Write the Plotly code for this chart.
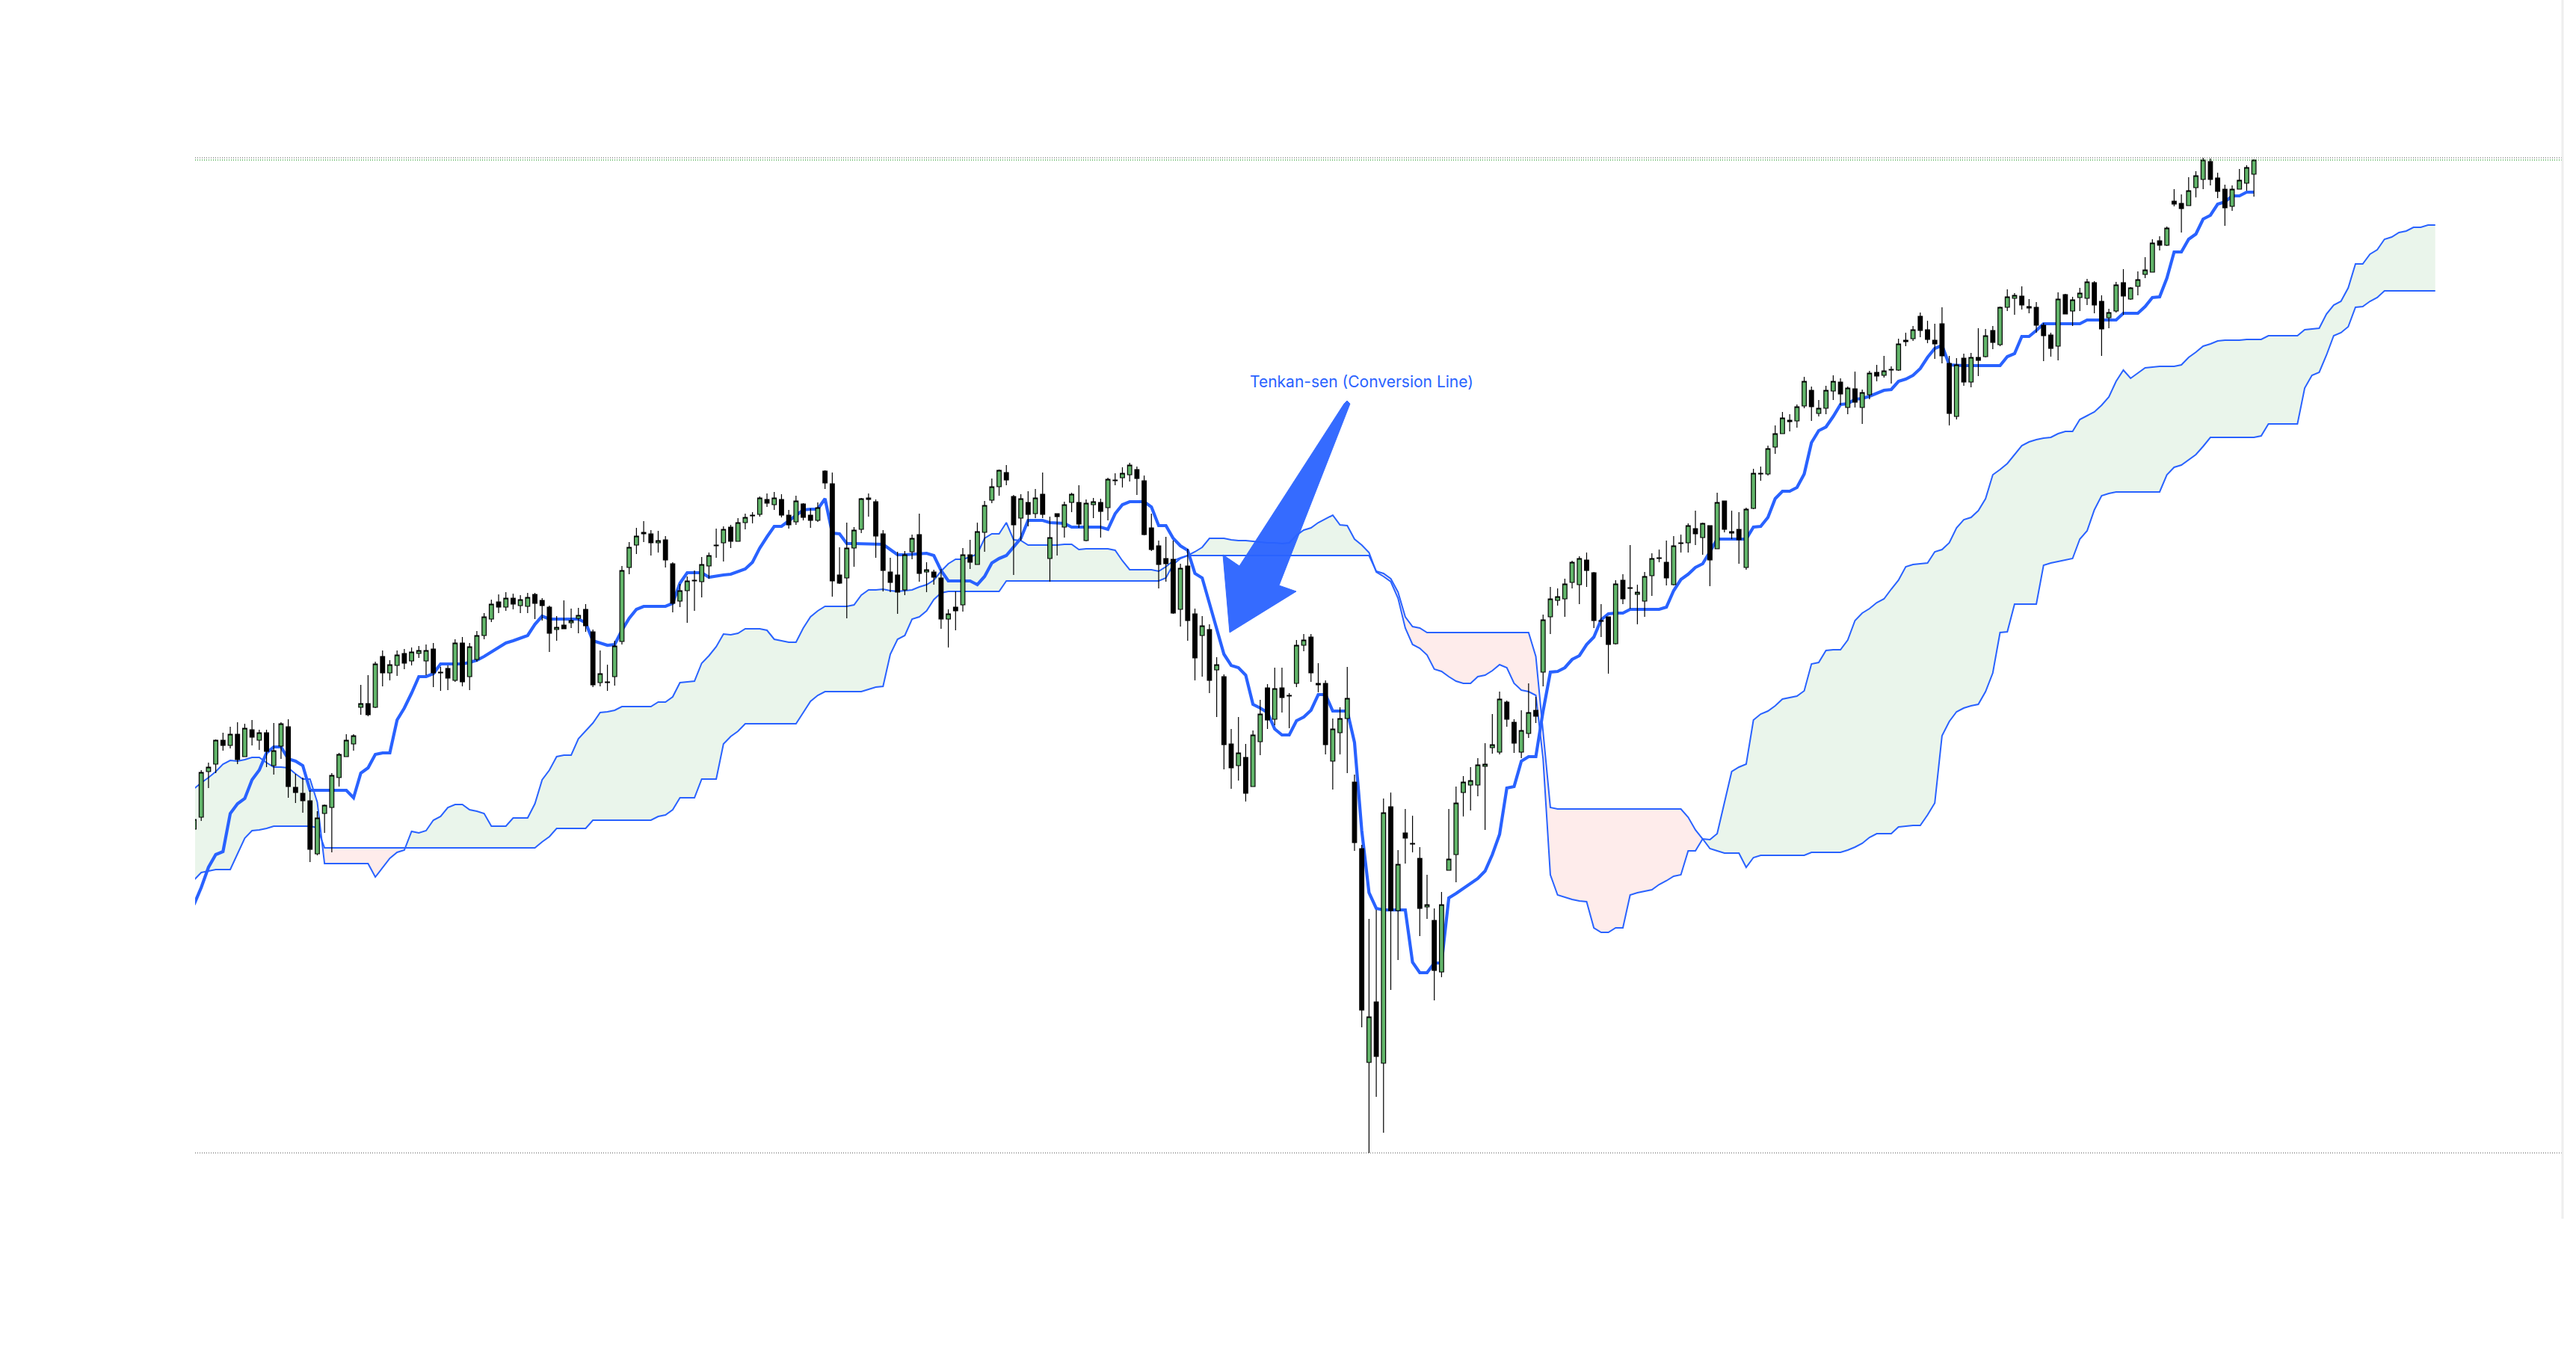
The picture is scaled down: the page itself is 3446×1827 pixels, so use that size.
import plotly.graph_objects as go

# ---------------- data (price units, index = bar number) ----------------
open_ = [891, 907, 968, 978, 1010, 1003, 1018, 988, 1024, 1010,
         1020, 976, 1002, 1028, 947, 939, 929, 858, 912, 920,
         960, 988, 1005, 1054, 1059, 1054, 1122, 1100, 1110, 1126,
         1116, 1126, 1116, 1132, 1100, 1106, 1090, 1140, 1095, 1118,
         1150, 1172, 1195, 1188, 1200, 1190, 1189, 1205, 1197, 1188,
         1158, 1164, 1167, 1173, 1185, 1155, 1087, 1087, 1095, 1142,
         1241, 1271, 1286, 1286, 1274, 1278, 1246, 1196, 1210, 1223,
         1222, 1243, 1270, 1274, 1295, 1276, 1301, 1310, 1312, 1332,
         1325, 1332, 1311, 1302, 1326, 1311, 1304, 1370, 1353, 1231,
         1227, 1267, 1292, 1334, 1329, 1286, 1235, 1231, 1211, 1262,
         1285, 1235, 1235, 1227, 1172, 1188, 1191, 1258, 1245, 1288,
         1331, 1349, 1368, 1336, 1307, 1328, 1313, 1339, 1253, 1313,
         1295, 1328, 1328, 1277, 1325, 1328, 1321, 1357, 1361, 1365,
         1372, 1357, 1294, 1270, 1253, 1252, 1185, 1243, 1179, 1150,
         1158, 1104, 1095, 1005, 976, 987, 948, 1008, 1080, 1038,
         1080, 1069, 1086, 1137, 1148, 1084, 1086, 982, 1020, 1039,
         954, 865, 579, 660, 578, 921, 782, 886, 871, 852,
         787, 769, 700, 836, 857, 940, 950, 950, 975, 1000,
         994, 1061, 1034, 994, 1019, 1050, 1101, 1175, 1197, 1199,
         1221, 1218, 1251, 1234, 1169, 1175, 1139, 1224, 1213, 1205,
         1196, 1230, 1253, 1248, 1218, 1273, 1274, 1293, 1281, 1297,
         1266, 1330, 1287, 1292, 1241, 1320, 1366, 1366, 1402, 1420,
         1436, 1437, 1457, 1478, 1447, 1454, 1477, 1489, 1455, 1480,
         1455, 1472, 1502, 1498, 1505, 1505, 1545, 1547, 1577, 1559,
         1545, 1567, 1514, 1443, 1521, 1489, 1522, 1523, 1558, 1539,
         1589, 1601, 1604, 1588, 1589, 1565, 1552, 1537, 1606, 1584,
         1602, 1601, 1622, 1597, 1575, 1584, 1622, 1600, 1617, 1633,
         1636, 1678, 1672, 1731, 1728, 1725, 1749, 1760, 1784, 1762,
         1747, 1724, 1747, 1755, 1767]

high = [907, 970, 980, 1011, 1020, 1028, 1034, 1032, 1037, 1024,
        1024, 1033, 1034, 1038, 965, 960, 943, 915, 924, 966,
        993, 1018, 1018, 1084, 1097, 1115, 1130, 1117, 1130, 1132,
        1134, 1136, 1138, 1140, 1108, 1110, 1145, 1148, 1140, 1156,
        1180, 1198, 1205, 1208, 1206, 1204, 1207, 1207, 1200, 1190,
        1176, 1197, 1186, 1187, 1192, 1158, 1130, 1111, 1143, 1243,
        1275, 1294, 1303, 1291, 1290, 1283, 1248, 1219, 1229, 1237,
        1255, 1261, 1293, 1296, 1298, 1307, 1313, 1315, 1336, 1340,
        1342, 1339, 1318, 1337, 1327, 1320, 1328, 1371, 1368, 1268,
        1301, 1295, 1334, 1340, 1332, 1291, 1254, 1262, 1263, 1285,
        1313, 1248, 1238, 1239, 1185, 1209, 1267, 1278, 1301, 1330,
        1360, 1372, 1378, 1338, 1339, 1343, 1346, 1368, 1309, 1313,
        1329, 1341, 1351, 1332, 1334, 1333, 1361, 1367, 1375, 1381,
        1376, 1364, 1313, 1277, 1282, 1277, 1246, 1266, 1186, 1176,
        1165, 1121, 1098, 1025, 1041, 1005, 1023, 1064, 1085, 1107,
        1107, 1073, 1144, 1152, 1152, 1113, 1090, 1039, 1054, 1108,
        964, 870, 771, 783, 932, 940, 863, 918, 909, 867,
        830, 785, 807, 918, 948, 962, 974, 986, 1006, 1045,
        1075, 1063, 1038, 1050, 1086, 1068, 1178, 1215, 1213, 1226,
        1250, 1256, 1261, 1235, 1192, 1175, 1224, 1232, 1271, 1218,
        1235, 1260, 1265, 1277, 1283, 1285, 1300, 1317, 1301, 1297,
        1341, 1330, 1317, 1315, 1321, 1373, 1376, 1404, 1431, 1449,
        1446, 1459, 1496, 1483, 1465, 1484, 1498, 1494, 1483, 1503,
        1479, 1504, 1512, 1524, 1510, 1547, 1555, 1564, 1582, 1571,
        1567, 1589, 1524, 1521, 1527, 1528, 1561, 1560, 1564, 1590,
        1613, 1608, 1617, 1600, 1596, 1568, 1555, 1609, 1607, 1603,
        1615, 1627, 1624, 1605, 1587, 1623, 1640, 1616, 1637, 1656,
        1680, 1684, 1697, 1747, 1740, 1763, 1771, 1789, 1788, 1769,
        1753, 1752, 1774, 1779, 1787]

low = [890, 902, 946, 966, 996, 999, 978, 988, 1003, 997,
       974, 964, 985, 933, 926, 913, 847, 856, 886, 860,
       948, 988, 996, 1044, 1042, 1053, 1082, 1090, 1096, 1105,
       1110, 1120, 1097, 1081, 1076, 1077, 1088, 1082, 1077, 1115,
       1145, 1168, 1180, 1183, 1185, 1180, 1180, 1172, 1170, 1128,
       1143, 1159, 1160, 1153, 1155, 1081, 1082, 1076, 1083, 1138,
       1232, 1259, 1275, 1257, 1261, 1241, 1181, 1188, 1167, 1183,
       1201, 1226, 1254, 1249, 1267, 1276, 1292, 1300, 1309, 1322,
       1318, 1308, 1293, 1298, 1304, 1294, 1302, 1346, 1202, 1219,
       1173, 1242, 1287, 1309, 1254, 1209, 1208, 1179, 1204, 1252,
       1222, 1208, 1218, 1159, 1134, 1157, 1182, 1239, 1245, 1262,
       1327, 1337, 1351, 1231, 1277, 1296, 1307, 1307, 1222, 1257,
       1281, 1315, 1294, 1276, 1307, 1281, 1304, 1351, 1348, 1356,
       1338, 1284, 1263, 1213, 1222, 1179, 1162, 1143, 1090, 1095,
       1073, 1041, 971, 945, 956, 928, 948, 990, 1025, 1030,
       1047, 1026, 1081, 1129, 1088, 1074, 991, 944, 991, 966,
       862, 626, 458, 533, 485, 676, 716, 845, 860, 748,
       771, 662, 693, 836, 820, 908, 916, 935, 890, 992,
       991, 1028, 993, 986, 1013, 1033, 1082, 1152, 1190, 1175,
       1213, 1192, 1215, 1160, 1148, 1099, 1138, 1192, 1186, 1165,
       1175, 1203, 1248, 1217, 1217, 1261, 1261, 1271, 1258, 1216,
       1266, 1288, 1279, 1246, 1238, 1319, 1357, 1364, 1393, 1420,
       1423, 1428, 1454, 1437, 1443, 1446, 1465, 1458, 1446, 1455,
       1433, 1466, 1490, 1495, 1487, 1504, 1537, 1544, 1549, 1541,
       1520, 1514, 1431, 1439, 1484, 1482, 1497, 1522, 1533, 1537,
       1584, 1579, 1586, 1581, 1555, 1517, 1523, 1518, 1580, 1564,
       1584, 1592, 1581, 1524, 1561, 1582, 1579, 1599, 1605, 1628,
       1636, 1665, 1671, 1724, 1689, 1725, 1736, 1747, 1752, 1735,
       1698, 1718, 1747, 1745, 1737]

close = [904, 967, 974, 1010, 1003, 1018, 984, 1026, 1014, 1020,
         995, 996, 1032, 948, 940, 929, 864, 906, 923, 963,
         991, 1010, 1016, 1059, 1044, 1112, 1100, 1111, 1124, 1113,
         1128, 1130, 1130, 1100, 1101, 1093, 1140, 1088, 1135, 1150,
         1175, 1192, 1188, 1200, 1192, 1198, 1201, 1193, 1190, 1153,
         1161, 1159, 1170, 1177, 1163, 1084, 1099, 1088, 1136, 1237,
         1268, 1283, 1288, 1274, 1277, 1251, 1193, 1210, 1223, 1224,
         1245, 1257, 1271, 1292, 1276, 1301, 1308, 1311, 1334, 1327,
         1334, 1311, 1298, 1330, 1308, 1304, 1321, 1354, 1223, 1220,
         1267, 1291, 1333, 1332, 1283, 1237, 1221, 1208, 1258, 1280,
         1233, 1238, 1228, 1172, 1179, 1183, 1258, 1248, 1289, 1324,
         1349, 1371, 1358, 1298, 1333, 1312, 1334, 1312, 1281, 1309,
         1325, 1339, 1299, 1327, 1329, 1316, 1359, 1358, 1367, 1378,
         1360, 1285, 1265, 1245, 1246, 1180, 1240, 1170, 1120, 1163,
         1090, 1111, 1004, 973, 993, 939, 1017, 1045, 1037, 1079,
         1067, 1070, 1137, 1144, 1100, 1086, 1004, 1025, 1039, 1066,
         873, 649, 640, 587, 913, 782, 844, 879, 872, 785,
         790, 702, 790, 851, 926, 954, 956, 977, 978, 1004,
         1065, 1038, 1006, 1023, 1047, 1042, 1171, 1199, 1202, 1219,
         1248, 1253, 1237, 1170, 1170, 1138, 1219, 1199, 1214, 1208,
         1229, 1253, 1254, 1227, 1270, 1274, 1297, 1286, 1300, 1251,
         1328, 1292, 1289, 1278, 1319, 1367, 1367, 1400, 1420, 1441,
         1438, 1456, 1490, 1456, 1454, 1478, 1490, 1473, 1481, 1462,
         1475, 1501, 1497, 1504, 1506, 1540, 1543, 1559, 1558, 1546,
         1540, 1524, 1447, 1512, 1489, 1522, 1518, 1551, 1542, 1589,
         1603, 1605, 1592, 1590, 1565, 1551, 1534, 1600, 1580, 1599,
         1608, 1623, 1592, 1560, 1582, 1619, 1604, 1615, 1626, 1639,
         1675, 1672, 1695, 1727, 1721, 1745, 1765, 1786, 1760, 1744,
         1722, 1747, 1759, 1776, 1786]

tenkan = [790, 813, 840, 857, 861, 912, 925, 932, 957, 970,
          993, 1001, 1001, 985, 982, 976, 943, 943, 943, 943,
          943, 943, 933, 966, 973, 991, 993, 993, 1037, 1053,
          1073, 1095, 1095, 1099, 1112, 1112, 1112, 1112, 1114, 1117,
          1122, 1128, 1135, 1140, 1143, 1146, 1150, 1165, 1176, 1172,
          1172, 1172, 1172, 1172, 1167, 1143, 1140, 1137, 1138, 1157,
          1173, 1185, 1189, 1189, 1189, 1189, 1193, 1220, 1234, 1234,
          1234, 1228, 1230, 1231, 1232, 1236, 1239, 1248, 1267, 1282,
          1296, 1296, 1303, 1310, 1318, 1319, 1319, 1333, 1287, 1286,
          1273, 1273, 1273, 1273, 1273, 1272, 1265, 1258, 1258, 1259,
          1260, 1260, 1257, 1237, 1223, 1223, 1223, 1223, 1218, 1229,
          1247, 1253, 1257, 1268, 1280, 1304, 1304, 1304, 1301, 1300,
          1300, 1295, 1295, 1295, 1295, 1295, 1292, 1313, 1325, 1329,
          1329, 1329, 1322, 1297, 1297, 1280, 1270, 1264, 1233, 1227,
          1193, 1160, 1125, 1110, 1107, 1097, 1058, 1053, 1047, 1025,
          1017, 1017, 1036, 1041, 1050, 1071, 1071, 1049, 1049, 1049,
          1007, 889, 806, 785, 783, 783, 783, 783, 713, 699,
          699, 712, 712, 799, 805, 812, 819, 825, 835, 857,
          884, 946, 948, 982, 988, 988, 1049, 1101, 1102, 1107,
          1118, 1123, 1138, 1148, 1171, 1179, 1180, 1180, 1185, 1185,
          1185, 1185, 1185, 1188, 1210, 1225, 1232, 1241, 1246, 1262,
          1279, 1279, 1279, 1279, 1279, 1295, 1296, 1308, 1333, 1343,
          1343, 1348, 1366, 1408, 1424, 1429, 1443, 1459, 1460, 1466,
          1467, 1470, 1474, 1478, 1479, 1490, 1493, 1498, 1507, 1522,
          1534, 1538, 1512, 1511, 1511, 1511, 1511, 1511, 1511, 1511,
          1523, 1527, 1550, 1550, 1558, 1567, 1567, 1567, 1567, 1567,
          1567, 1572, 1572, 1572, 1572, 1572, 1581, 1581, 1581, 1590,
          1602, 1603, 1628, 1663, 1663, 1680, 1687, 1707, 1712, 1727,
          1730, 1738, 1738, 1743, 1743]

span_a = [945, 953, 960, 968, 978, 983, 982, 984, 987, 987,
          980, 974, 974, 973, 965, 958, 958, 927, 845, 845,
          845, 845, 845, 845, 845, 827, 840, 852, 860, 863,
          888, 886, 889, 903, 908, 920, 924, 924, 917, 915,
          912, 895, 895, 895, 906, 906, 906, 925, 957, 970,
          988, 990, 990, 1012, 1022, 1033, 1047, 1048, 1050, 1055,
          1055, 1055, 1055, 1055, 1061, 1061, 1068, 1087, 1088, 1089,
          1113, 1123, 1135, 1152, 1151, 1153, 1159, 1159, 1159, 1157,
          1145, 1143, 1141, 1141, 1160, 1175, 1183, 1189, 1189, 1189,
          1189, 1191, 1204, 1211, 1211, 1212, 1210, 1209, 1210, 1211,
          1215, 1218, 1224, 1236, 1246, 1252, 1252, 1255, 1259, 1280,
          1286, 1286, 1301, 1278, 1277, 1271, 1271, 1271, 1271, 1271,
          1272, 1272, 1265, 1266, 1266, 1266, 1266, 1264, 1250, 1238,
          1238, 1238, 1238, 1236, 1242, 1250, 1254, 1257, 1262, 1268,
          1280, 1280, 1280, 1278, 1277, 1277, 1276, 1275, 1274, 1274,
          1273, 1274, 1284, 1291, 1294, 1301, 1306, 1311, 1298, 1297,
          1279, 1271, 1261, 1235, 1229, 1222, 1200, 1160, 1138, 1133,
          1124, 1105, 1102, 1095, 1089, 1086, 1086, 1095, 1097, 1103,
          1111, 1107, 1086, 1077, 1075, 1070, 985, 830, 803, 800,
          797, 795, 794, 759, 753, 753, 759, 759, 803, 806,
          808, 810, 817, 822, 828, 830, 862, 862, 878, 877,
          885, 926, 968, 974, 978, 1037, 1045, 1049, 1056, 1065,
          1067, 1069, 1076, 1112, 1114, 1130, 1131, 1131, 1144, 1170,
          1180, 1186, 1194, 1199, 1212, 1224, 1242, 1245, 1246, 1247,
          1262, 1265, 1274, 1294, 1305, 1308, 1317, 1333, 1365, 1372,
          1380, 1392, 1404, 1409, 1412, 1414, 1415, 1420, 1423, 1423,
          1439, 1444, 1449, 1458, 1469, 1490, 1505, 1494, 1501, 1508,
          1509, 1510, 1510, 1510, 1512, 1522, 1529, 1537, 1540, 1544,
          1545, 1545, 1545, 1546, 1546, 1546, 1551, 1551, 1551, 1551,
          1551, 1559, 1560, 1561, 1580, 1592, 1597, 1615, 1647, 1647,
          1660, 1666, 1680, 1683, 1689, 1691, 1696, 1696, 1699, 1699]

span_b = [823, 833, 835, 837, 837, 837, 858, 879, 889, 890,
          892, 895, 895, 895, 895, 895, 895, 893, 866, 866,
          866, 866, 866, 866, 866, 866, 866, 866, 866, 866,
          866, 866, 866, 866, 866, 866, 866, 866, 866, 866,
          866, 866, 866, 866, 866, 866, 866, 866, 874, 881,
          892, 892, 892, 892, 892, 903, 903, 903, 903, 903,
          903, 903, 903, 903, 908, 910, 917, 933, 933, 933,
          958, 958, 958, 1005, 1015, 1022, 1032, 1032, 1032, 1032,
          1032, 1032, 1032, 1032, 1047, 1062, 1070, 1075, 1075, 1075,
          1075, 1075, 1075, 1078, 1081, 1082, 1125, 1145, 1150, 1172,
          1175, 1183, 1198, 1207, 1209, 1209, 1209, 1209, 1209, 1209,
          1209, 1209, 1223, 1223, 1223, 1223, 1223, 1223, 1223, 1223,
          1223, 1223, 1223, 1223, 1223, 1223, 1223, 1223, 1223, 1223,
          1223, 1223, 1223, 1223, 1227, 1245, 1253, 1257, 1257, 1257,
          1257, 1257, 1257, 1257, 1257, 1257, 1257, 1257, 1257, 1257,
          1257, 1257, 1257, 1257, 1257, 1257, 1257, 1257, 1257, 1257,
          1257, 1257, 1257, 1236, 1233, 1226, 1208, 1175, 1162, 1160,
          1154, 1154, 1154, 1154, 1154, 1154, 1154, 1154, 1154, 1154,
          1154, 1154, 1154, 1154, 1154, 1122, 1017, 920, 918, 918,
          918, 918, 918, 918, 918, 918, 918, 918, 918, 918,
          918, 918, 918, 918, 918, 918, 907, 890, 878, 865,
          862, 859, 859, 859, 840, 853, 856, 856, 856, 856,
          856, 856, 856, 860, 860, 860, 860, 860, 863, 867,
          872, 880, 885, 885, 885, 894, 895, 896, 896, 910,
          926, 1016, 1035, 1048, 1053, 1056, 1058, 1075, 1100, 1154,
          1155, 1192, 1192, 1192, 1192, 1244, 1247, 1249, 1251, 1253,
          1279, 1290, 1318, 1337, 1340, 1342, 1342, 1342, 1342, 1342,
          1342, 1342, 1365, 1375, 1378, 1385, 1392, 1403, 1415, 1415,
          1415, 1415, 1415, 1415, 1415, 1417, 1433, 1433, 1433, 1433,
          1433, 1481, 1498, 1502, 1525, 1551, 1555, 1563, 1589, 1590,
          1597, 1602, 1611, 1611, 1611, 1611, 1611, 1611, 1611, 1611]

label_text = "Tenkan-sen (Conversion Line)"

# ---------------- styling / geometry ----------------
W, H = 3446, 1827
PLOT_L, PLOT_R = 261, 3428
X_RANGE = [0.155, 326.55]
Y_RANGE = [173, 2000]
BLUE = "#2962FF"
GREEN = "#62B56A"
CLOUD_UP = "rgba(67,160,71,0.11)"
CLOUD_DN = "rgba(244,67,54,0.10)"

n = len(close)
m = len(span_a)
cx = list(range(n))
sx = list(range(m))

# cloud outline with exact crossing points so colours switch cleanly
xs, ya, yb = [], [], []
for k in range(m):
    xs.append(sx[k]); ya.append(span_a[k]); yb.append(span_b[k])
    if k < m - 1:
        d0 = span_a[k] - span_b[k]
        d1 = span_a[k + 1] - span_b[k + 1]
        if d0 * d1 < 0:
            t = d0 / (d0 - d1)
            yc = span_a[k] + t * (span_a[k + 1] - span_a[k])
            xs.append(sx[k] + t); ya.append(yc); yb.append(yc)
upper = [max(a, b) for a, b in zip(ya, yb)]
lower = [min(a, b) for a, b in zip(ya, yb)]

fig = go.Figure()
base = dict(mode="lines", line=dict(width=0), hoverinfo="skip", showlegend=False)
fig.add_trace(go.Scatter(x=xs, y=yb, **base))
fig.add_trace(go.Scatter(x=xs, y=upper, fill="tonexty", fillcolor=CLOUD_UP, **base))
fig.add_trace(go.Scatter(x=xs, y=yb, **base))
fig.add_trace(go.Scatter(x=xs, y=lower, fill="tonexty", fillcolor=CLOUD_DN, **base))
fig.add_trace(go.Scatter(x=sx, y=span_a, mode="lines", line=dict(color=BLUE, width=2),
                         hoverinfo="skip", showlegend=False))
fig.add_trace(go.Scatter(x=sx, y=span_b, mode="lines", line=dict(color=BLUE, width=2),
                         hoverinfo="skip", showlegend=False))
fig.add_trace(go.Scatter(x=cx, y=tenkan, mode="lines", line=dict(color=BLUE, width=4.2),
                         hoverinfo="skip", showlegend=False))
fig.add_trace(go.Candlestick(
    x=cx, open=open_, high=high, low=low, close=close,
    xaxis="x2", yaxis="y2",
    increasing=dict(fillcolor=GREEN, line=dict(color="#000000", width=1.2)),
    decreasing=dict(fillcolor="#000000", line=dict(color="#000000", width=1.2)),
    whiskerwidth=0, showlegend=False, hoverinfo="skip"))

def paper(px, py):
    return (px - PLOT_L) / (PLOT_R - PLOT_L), 1 - py / H

arrow_px = [(1798, 540), (1802, 536), (1806, 540), (1711, 783), (1734, 791),
            (1645, 846), (1636, 742), (1658, 757)]
pts = [paper(x, y) for x, y in arrow_px]
arrow_path = "M " + " L ".join(f"{x:.5f},{y:.5f}" for x, y in pts) + " Z"

hi, lo, last = max(high), min(low), close[-1]
shapes = [
    dict(type="line", xref="paper", yref="y", x0=0, x1=1, y0=hi, y1=hi,
         line=dict(color="#8a8a8a", width=1.4, dash="1px,2px"), layer="above"),
    dict(type="line", xref="paper", yref="y", x0=0, x1=1, y0=last, y1=last,
         line=dict(color="#4CAF50", width=1.4, dash="1px,2px"), layer="above"),
    dict(type="line", xref="paper", yref="y", x0=0, x1=1, y0=lo, y1=lo,
         line=dict(color="#8a8a8a", width=1.4, dash="1px,2px"), layer="above"),
    dict(type="line", xref="paper", yref="paper", x0=1, x1=1, y0=1 - 1630 / H, y1=1,
         line=dict(color="#eeeeee", width=3), layer="above"),
    dict(type="path", xref="paper", yref="paper", path=arrow_path,
         fillcolor=BLUE, opacity=0.94, line=dict(color=BLUE, width=1), layer="above"),
]

tx, ty = paper(1821, 511)
fig.update_layout(
    width=W, height=H,
    margin=dict(l=PLOT_L, r=W - PLOT_R, t=0, b=0, pad=0),
    paper_bgcolor="white", plot_bgcolor="white",
    showlegend=False, boxgap=0.42, boxgroupgap=0,
    xaxis=dict(range=X_RANGE, visible=False, showgrid=False, zeroline=False,
               rangeslider=dict(visible=False)),
    yaxis=dict(range=Y_RANGE, visible=False, showgrid=False, zeroline=False),
    xaxis2=dict(range=X_RANGE, overlaying="x", visible=False, showgrid=False,
                zeroline=False, rangeslider=dict(visible=False)),
    yaxis2=dict(range=Y_RANGE, overlaying="y", visible=False, showgrid=False,
                zeroline=False),
    shapes=shapes,
    annotations=[dict(xref="paper", yref="paper", x=tx, y=ty, text=label_text,
                      showarrow=False, xanchor="center", yanchor="middle",
                      font=dict(family="Inter, Roboto, sans-serif", size=21, color=BLUE))],
)

fig.write_html("out.html", config={"displayModeBar": False},
               post_script="document.body.style.margin='0';document.body.style.overflow='hidden';")
